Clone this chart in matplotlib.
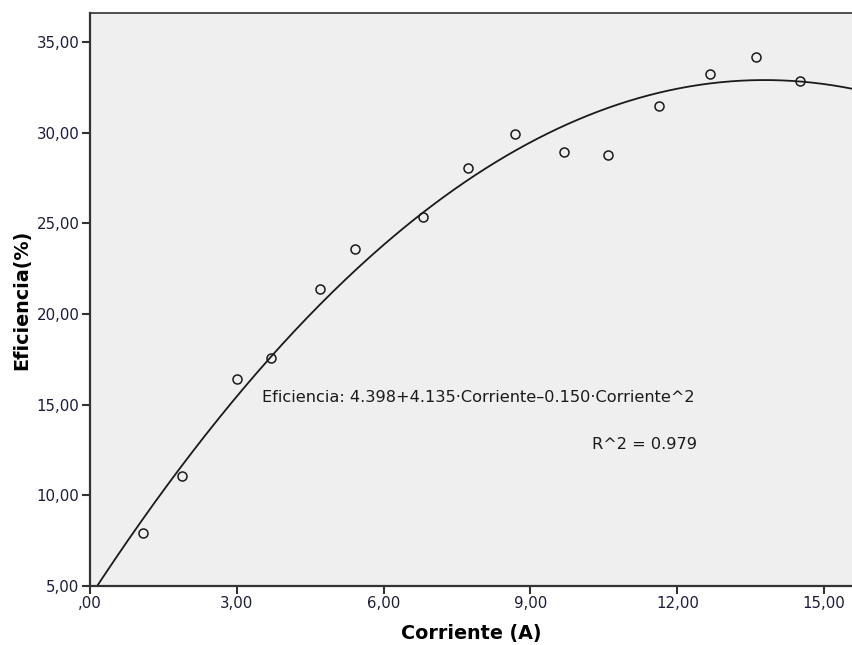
import matplotlib
matplotlib.use("Agg")
import matplotlib.pyplot as plt
import numpy as np
from matplotlib.ticker import FuncFormatter

# Measured current (A) and efficiency (%)
corriente = [1.08, 1.89, 3.00, 3.70, 4.70, 5.42, 6.81, 7.73, 8.69, 9.68, 10.59, 11.63, 12.66, 13.61, 14.50]
eficiencia = [7.91, 11.05, 16.42, 17.58, 21.38, 23.59, 25.35, 28.06, 29.93, 28.94, 28.77, 31.48, 33.24, 34.19, 32.82]

# Quadratic fit coefficients (a + b*x + c*x^2) and R^2
coef = [4.398, 4.135, -0.150]
r2 = 0.979

x_ticks = [0, 3, 6, 9, 12, 15]
y_ticks = [5, 10, 15, 20, 25, 30, 35]


def coma(v, pos):
    s = f"{v:.2f}".replace(".", ",")
    if s.startswith("0,"):
        s = s[1:]
    return s


fig = plt.figure(figsize=(8.52, 6.45), dpi=100)
ax = fig.add_axes([0.1056, 0.0915, 0.8944, 0.888])
ax.set_facecolor("#efefef")

xs = np.linspace(0, 15.6, 300)
ys = coef[0] + coef[1] * xs + coef[2] * xs ** 2
ax.plot(xs, ys, color="#1a1a1a", lw=1.3, zorder=2)
ax.plot(corriente, eficiencia, "o", mfc="none", mec="#1a1a1a", ms=6.5, mew=1.1, zorder=3)

ax.set_xlim(0, 15.57)
ax.set_ylim(5, 36.58)
ax.set_xticks(x_ticks)
ax.set_yticks(y_ticks)
ax.xaxis.set_major_formatter(FuncFormatter(coma))
ax.yaxis.set_major_formatter(FuncFormatter(coma))
ax.tick_params(direction="out", length=5.5, width=1.5, color="#333333", pad=2,
               labelsize=10.8, labelcolor="#1c1c3a")

for side in ["left", "bottom"]:
    ax.spines[side].set_linewidth(1.6)
    ax.spines[side].set_color("#333333")
ax.spines["top"].set_linewidth(1.2)
ax.spines["top"].set_color("#333333")
ax.spines["right"].set_visible(False)

ax.set_xlabel("Corriente (A)", fontsize=13.8, fontweight="bold", labelpad=9)
ax.set_ylabel("Eficiencia(%)", fontsize=13.8, fontweight="bold", labelpad=4)

eq = f"Eficiencia: {coef[0]:.3f}+{coef[1]:.3f}·Corriente–{abs(coef[2]):.3f}·Corriente^2"
ax.text(3.52, 15.37, eq, fontsize=11.6, color="#1a1a1a", va="center", ha="left")
ax.text(12.4, 12.78, f"R^2 = {r2:.3f}", fontsize=11.6, color="#1a1a1a", va="center", ha="right")

fig.savefig("out.png", dpi=100)
